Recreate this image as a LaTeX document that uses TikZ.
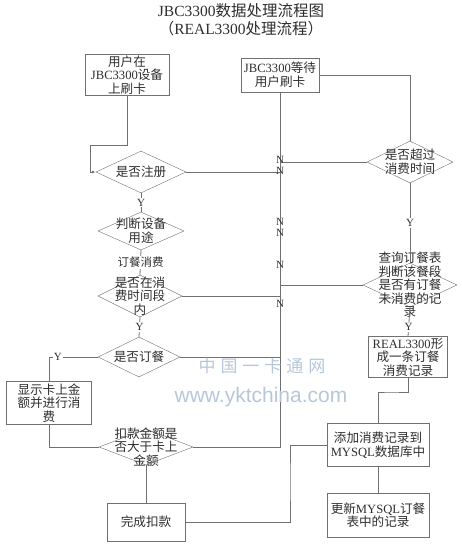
\documentclass[tikz,border=0pt]{standalone}
\usepackage{fontspec}
\setmainfont{Liberation Serif}
\newfontfamily\cjk{Noto Sans CJK SC}
\newfontfamily\wsans{Liberation Sans}
\newcommand\lat[1]{{\rmfamily #1}}
\usetikzlibrary{positioning,arrows.meta,shapes.geometric}
\definecolor{linec}{HTML}{707070}
\definecolor{txtc}{HTML}{2E2E2E}
\definecolor{wmark}{HTML}{B8C6DA}
\tikzset{
  box/.style n args={2}{draw=linec, rectangle, minimum width=#1, minimum height=#2,
    inner sep=1pt, align=center, text=txtc, font=\cjk\fontsize{12.6}{13.6}\selectfont},
  dec/.style n args={2}{draw=linec, diamond, minimum width=#1, minimum height=#2, inner sep=0pt},
  dtxt/.style={align=center, text=txtc, inner sep=0pt, font=\cjk\fontsize{12.6}{13.6}\selectfont},
  lab/.style={text=txtc, inner sep=1pt, font=\fontsize{11}{12}\selectfont},
  wire/.style={draw=linec, line width=0.8pt},
}
\begin{document}
\begin{tikzpicture}[x=1pt,y=-1pt]
\useasboundingbox (0,0) rectangle (461,548);
% title
\node[text=txtc, inner sep=0pt, font=\cjk\fontsize{15.5}{17}\selectfont] (title) at (241,11) {\lat{JBC3300}数据处理流程图};
\node[text=txtc, inner sep=0pt, font=\cjk\fontsize{15.5}{17}\selectfont] (subtitle) at (241,29) {（\lat{REAL3300}处理流程）};
% left column
\node[box={84pt}{39pt}] (swipe) at (127,75) {用户在\\\lat{JBC3300}设备\\上刷卡};
\node[dec={90pt}{42pt}] (reg) at (141,172) {};
\node[dtxt] (regt) at (reg) {是否注册};
\node[dec={86pt}{38pt}] (use) at (141,231) {};
\node[dtxt] (uset) at (use) {判断设备\\用途};
\node[dec={84pt}{42pt}] (time) at (140,296) {};
\node[dtxt] (timet) at (time) {是否在消\\费时间段\\内};
\node[dec={82pt}{40pt}] (ord) at (139,357) {};
\node[dtxt] (ordt) at (ord) {是否订餐};
\node[box={85pt}{43pt}] (show) at (49,403) {显示卡上金\\额并进行消\\费};
\node[dec={94pt}{36pt}] (pay) at (146,447) {};
\node[dtxt] (payt) at (pay) {扣款金额是\\否大于卡上\\金额};
\node[box={78pt}{38pt}] (done) at (146,522) {完成扣款};
% right column
\node[box={78pt}{34pt}] (wait) at (280,75) {\lat{JBC3300}等待\\用户刷卡};
\node[dec={86pt}{42pt}] (over) at (410,162) {};
\node[dtxt] (overt) at (over) {是否超过\\消费时间};
\node[dec={94pt}{44pt}] (qry) at (410,285) {};
\node[dtxt] (qryt) at (qry) {查询订餐表\\判断该餐段\\是否有订餐\\未消费的记\\录};
\node[box={79pt}{39pt}] (real) at (408,357) {\lat{REAL3300}形\\成一条订餐\\消费记录};
\node[box={102pt}{43pt}] (add) at (378,445) {添加消费记录到\\\lat{MYSQL}数据库中};
\node[box={102pt}{44pt}] (upd) at (378,515) {更新\lat{MYSQL}订餐\\表中的记录};
\coordinate (jA) at (90,145);
\coordinate (jD) at (290,480);
\coordinate (jR) at (390,392);
% connectors
\draw[wire,-{Latex[length=4pt,width=3pt]}] (swipe.south) |- (jA) |- (reg.west);
\draw[wire] (wait.south) |- (pay.east);
\draw[wire] (wait.east) -| (over.north);
\draw[wire] (reg.east) -- (reg.east -| wait.south);
\draw[wire] (over.west) -- (over.west -| wait.south);
\draw[wire] (time.east) -- (time.east -| wait.south);
\draw[wire] (qry.west) -- (qry.west -| wait.south);
\draw[wire] (ord.east) -- (ord.east -| wait.south);
\draw[wire] (reg.south) -- node[lab,fill=white] (y1) {Y} (use.north);
\draw[wire] (use.south) -- node[lab,fill=white,font=\cjk\fontsize{11.5}{12}\selectfont] (cat) {订餐消费} (time.north);
\draw[wire] (time.south) -- node[lab,fill=white] (y2) {Y} (ord.north);
\draw[wire] (ord.west) -- node[lab,fill=white,pos=0.82] (y3) {Y} (ord.west -| show.north) -- (show.north);
\draw[wire] (show.south) |- (pay.west);
\draw[wire] (pay.south) -- (done.north);
\draw[wire] (done.east) -| (jD) |- (add.west);
\draw[wire] (over.south) -- node[lab,fill=white] (y4) {Y} (qry.north);
\draw[wire] (qry.south) -- node[lab,fill=white,pos=0.68] (y5) {Y} (real.north);
\draw[wire] (real.south) |- (jR) -| (add.north);
\draw[wire] (add.south) -- (upd.north);
% N marks on the trunk
\foreach \yy/\nm in {160/n1,171/n2,222/n3,233/n4,265/n5,304/n6}
  \node[lab] (\nm) at (280,\yy) {N};
% watermark
\node[text=wmark, font=\cjk\fontsize{17}{17}\selectfont] (wm1) at (262,366) {中\hspace{5pt}国\hspace{5pt}一\hspace{5pt}卡\hspace{5pt}通\hspace{5pt}网};
\node[text=wmark, font=\wsans\fontsize{21}{21}\selectfont] (wm2) at (261,397) {www.yktchina.com};
\end{tikzpicture}
\end{document}
